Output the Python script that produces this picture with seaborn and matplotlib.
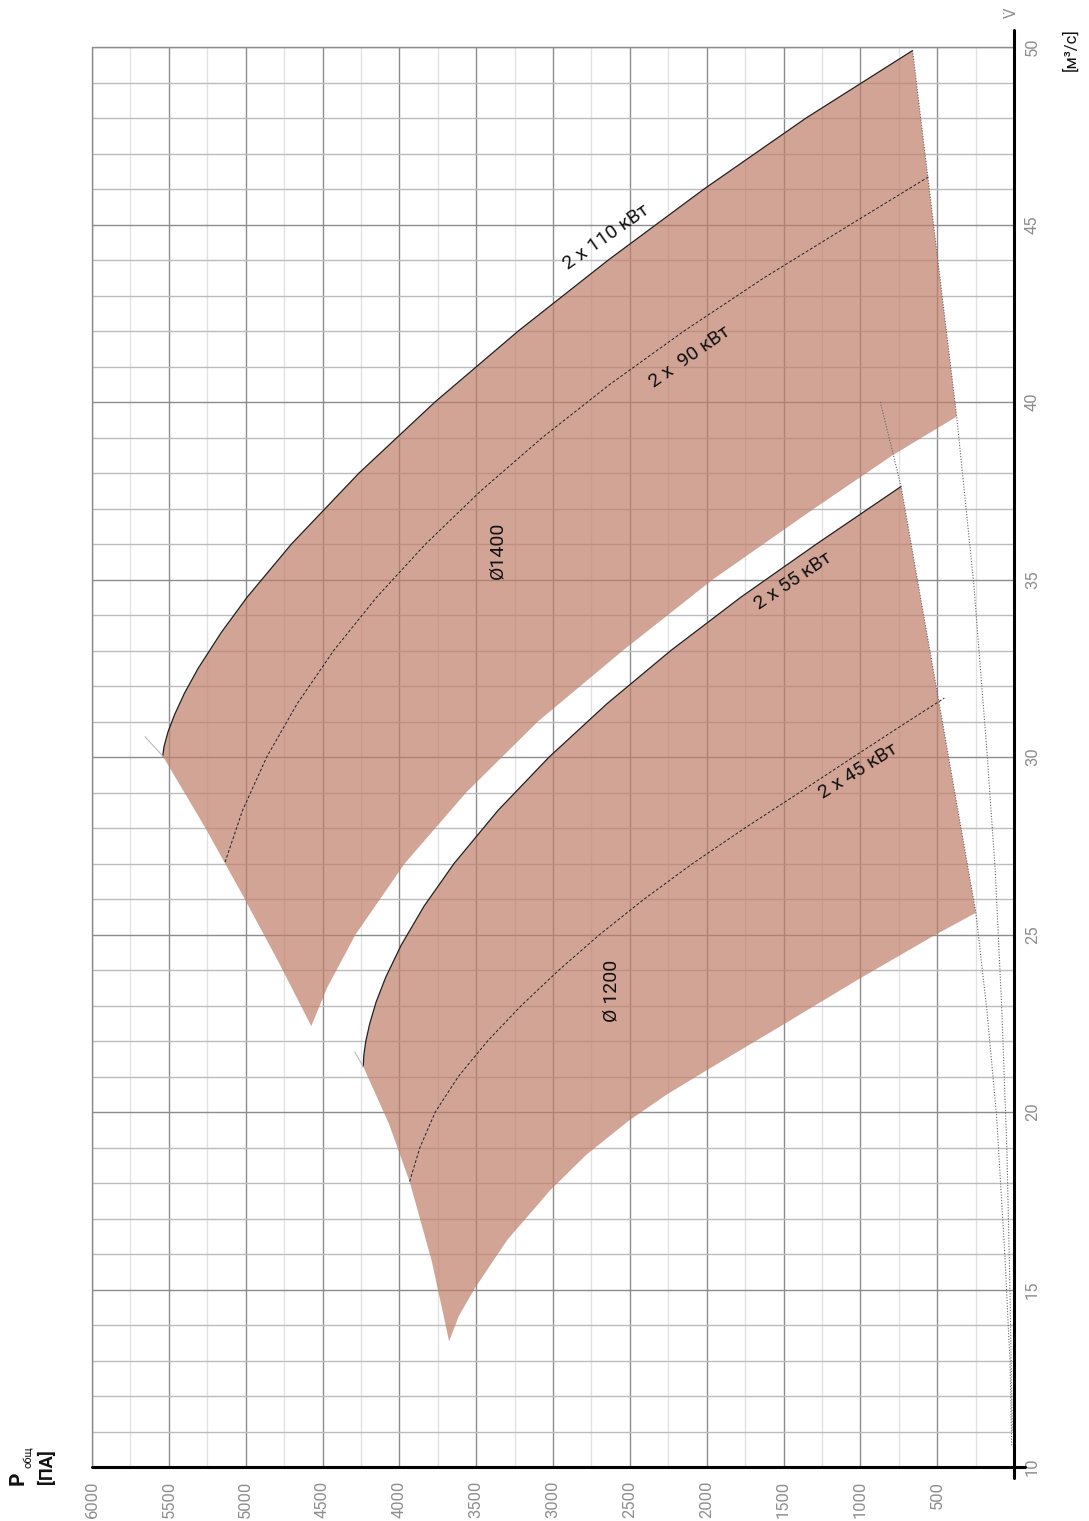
import numpy as np
import matplotlib
matplotlib.use("Agg")
import matplotlib.pyplot as plt
import seaborn as sns

# --- data (V in m3/s, P in Pa) ---
# D1400, 2 x 110 kW curve (upper boundary)
v1400_110 = [30.03, 30.3, 30.7, 31.2, 31.8, 32.5, 33.5, 34.5, 36.0, 38.0, 40.0, 42.0, 44.0, 46.0, 48.0, 49.9]
p1400_110 = [5540, 5531, 5506, 5462, 5398, 5309, 5160, 4991, 4702, 4262, 3768, 3226, 2640, 2017, 1353, 660]
# D1400, 2 x 90 kW (dashed)
v1400_90 = [27.04, 28.5, 30.0, 31.5, 33.0, 34.5, 36.0, 37.5, 39.0, 40.5, 42.0, 43.5, 45.0, 46.34]
p1400_90 = [5134, 5020, 4863, 4665, 4427, 4148, 3829, 3469, 3069, 2629, 2147, 1626, 1064, 557]
# D1400 lower (minimum) curve
v1400_low = [22.42, 23.5, 25.0, 27.0, 29.0, 31.0, 33.0, 35.0, 37.0, 38.5, 39.59]
p1400_low = [4573, 4470, 4285, 3965, 3565, 3098, 2545, 1960, 1300, 790, 373]
# D1400 surge line (left boundary)
v1400_left = [30.03, 28.0, 26.07, 24.2, 22.42]
p1400_left = [5540, 5262, 5015, 4783, 4573]

# D1200, 2 x 55 kW curve
v1200_55 = [21.28, 21.6, 22.0, 22.5, 23.1, 23.8, 24.7, 25.8, 27.0, 28.5, 30.0, 31.5, 33.0, 34.5, 36.0, 37.62]
p1200_55 = [4235, 4231, 4218, 4192, 4151, 4088, 3988, 3839, 3644, 3357, 3025, 2649, 2233, 1778, 1285, 735]
# D1200, 2 x 45 kW (dashed)
v1200_45 = [18.04, 19.0, 20.0, 21.0, 22.0, 23.0, 24.0, 25.0, 26.0, 27.0, 28.0, 29.0, 30.0, 31.0, 31.66]
p1200_45 = [3933, 3866, 3766, 3616, 3426, 3206, 2961, 2696, 2406, 2091, 1751, 1396, 1046, 691, 453]
# D1200 lower curve
v1200_low = [13.54, 14.26, 15.04, 16.4, 17.81, 18.8, 19.75, 20.5, 21.17, 22.44, 23.73, 25.0, 25.61]
p1200_low = [3676, 3612, 3508, 3297, 3015, 2782, 2508, 2257, 2002, 1510, 1015, 508, 248]
# D1200 surge line
v1200_left = [21.28, 19.66, 18.04, 15.8, 13.54]
p1200_left = [4235, 4067, 3933, 3789, 3676]

# system curves (dotted)
v_sysA = [40.0, 37.62, 25.61, 22.85, 19.87, 15.93, 12.96, 10.6]
p_sysA = [870, 735, 248, 176, 113, 59, 26, 15]
v_sysB = [49.9, 39.59, 34.89, 30.15, 26.8, 22.85, 18.9, 14.93, 10.99]
p_sysB = [660, 373, 262, 176, 122, 79, 46, 26, 11]

# short surge-line extensions past the peak
v_ext1400 = [30.03, 30.57]
p_ext1400 = [5540, 5655]
v_ext1200 = [21.28, 21.69]
p_ext1200 = [4235, 4290]

labels = ["2 x 110 кВт", "2 x  90 кВт", "Ø1400", "2 x 55 кВт", "2 x 45 кВт", "Ø 1200"]
label_p = [2654, 2113, 3363, 1436, 1012, 2621]
label_v = [44.65, 41.27, 35.83, 34.96, 29.6, 23.41]
label_rot = [35, 35, 90, 34, 32, 90]

p_ticks = list(range(500, 6001, 500))
v_ticks = list(range(10, 51, 5))

sns.set_style("white")
plt.rcParams["font.family"] = ["Roboto", "DejaVu Sans"]

W, H = 1089, 1521
fig = plt.figure(figsize=(W / 100, H / 100), dpi=100)
ax = fig.add_axes([92 / W, 54 / H, (1014 - 92) / W, (1467 - 47) / H])

fill_col = "#c07e68"


def band(p_up, v_up, p_low, v_low, p_left, v_left):
    # polygon: surge line, upper curve, lower curve reversed
    px = list(p_left[::-1]) + list(p_up) + list(p_low[::-1])
    vy = list(v_left[::-1]) + list(v_up) + list(v_low[::-1])
    ax.fill(px, vy, color=fill_col, alpha=0.7, lw=0, zorder=2)


band(p1400_110, v1400_110, p1400_low, v1400_low, p1400_left, v1400_left)
band(p1200_55, v1200_55, p1200_low, v1200_low, p1200_left, v1200_left)

for p, v in [(p1400_110, v1400_110), (p1200_55, v1200_55)]:
    sns.lineplot(x=p, y=v, sort=False, estimator=None, color="#222222", lw=0.9, ax=ax, zorder=4)
for p, v in [(p1400_90, v1400_90), (p1200_45, v1200_45)]:
    sns.lineplot(x=p, y=v, sort=False, estimator=None, color="#222222", lw=0.7,
                 linestyle=(0, (3, 2)), ax=ax, zorder=4)
for p, v in [(p_sysA, v_sysA), (p_sysB, v_sysB)]:
    sns.lineplot(x=p, y=v, sort=False, estimator=None, color="#666666", lw=0.8,
                 linestyle=(0, (1, 1.5)), ax=ax, zorder=4)
for p, v in [(p_ext1400, v_ext1400), (p_ext1200, v_ext1200)]:
    sns.lineplot(x=p, y=v, sort=False, estimator=None, color="#bbbbbb", lw=0.8, ax=ax, zorder=4)

for txt, p, v, r in zip(labels, label_p, label_v, label_rot):
    ax.text(p, v, txt, rotation=r, ha="center", va="center",
            fontsize=14, color="#111111", zorder=5)

ax.set_xlim(6000, 0)
ax.set_ylim(10, 50)
ax.set_xticks(p_ticks)
ax.set_xticks(np.arange(250, 6000, 500), minor=True)
ax.set_yticks(v_ticks)
ax.set_yticks([v for v in range(10, 51) if v % 5], minor=True)
ax.set_xticklabels([str(t) for t in p_ticks], rotation=90)
ax.yaxis.tick_right()
ax.set_yticklabels([str(t) for t in v_ticks], rotation=90, va="center")
ax.tick_params(which="both", length=0)
ax.tick_params(axis="x", pad=10, labelsize=12, labelcolor="#8f8f8f")
ax.tick_params(axis="y", pad=8, labelsize=12, labelcolor="#8f8f8f")

ax.set_axisbelow(True)
ax.xaxis.grid(True, which="major", color="#8c8c8c", lw=1)
ax.yaxis.grid(True, which="major", color="#8c8c8c", lw=1)
ax.xaxis.grid(True, which="minor", color="#e2e2e2", lw=1)
ax.yaxis.grid(True, which="minor", color="#bcbcbc", lw=1)

for s in ax.spines.values():
    s.set_visible(False)
# thick black axes at bottom and right, crossing at the corner
ax.plot([0, 1.012], [0, 0], color="black", lw=2.2, transform=ax.transAxes, clip_on=False, zorder=6)
ax.plot([1, 1], [-0.008, 1.012], color="black", lw=2.2, transform=ax.transAxes, clip_on=False, zorder=6)
ax.plot([0, 0], [0, 1], color="#8c8c8c", lw=1, transform=ax.transAxes, clip_on=False)
ax.plot([0, 1], [1, 1], color="#8c8c8c", lw=1, transform=ax.transAxes, clip_on=False)

# axis titles
fig.text(18 / W, 1 - 1478 / H, "P", rotation=90, ha="center", va="center",
         fontsize=15, fontweight="bold", color="#111111")
fig.text(29 / W, 1 - 1457 / H, "общ", rotation=90, ha="center", va="center",
         fontsize=8, color="#111111")
fig.text(47 / W, 1 - 1467 / H, "[ПА]", rotation=90, ha="center", va="center",
         fontsize=13, fontweight="bold", color="#111111")
fig.text(1011 / W, 1 - 13 / H, "V\u0307", rotation=90, ha="center", va="center",
         fontsize=11, color="#8f8f8f", family=["DejaVu Sans"])
fig.text(1070 / W, 1 - 50 / H, "[м³/с]", rotation=90, ha="center", va="center",
         fontsize=12, color="#111111")

fig.savefig("out.png", dpi=100)
